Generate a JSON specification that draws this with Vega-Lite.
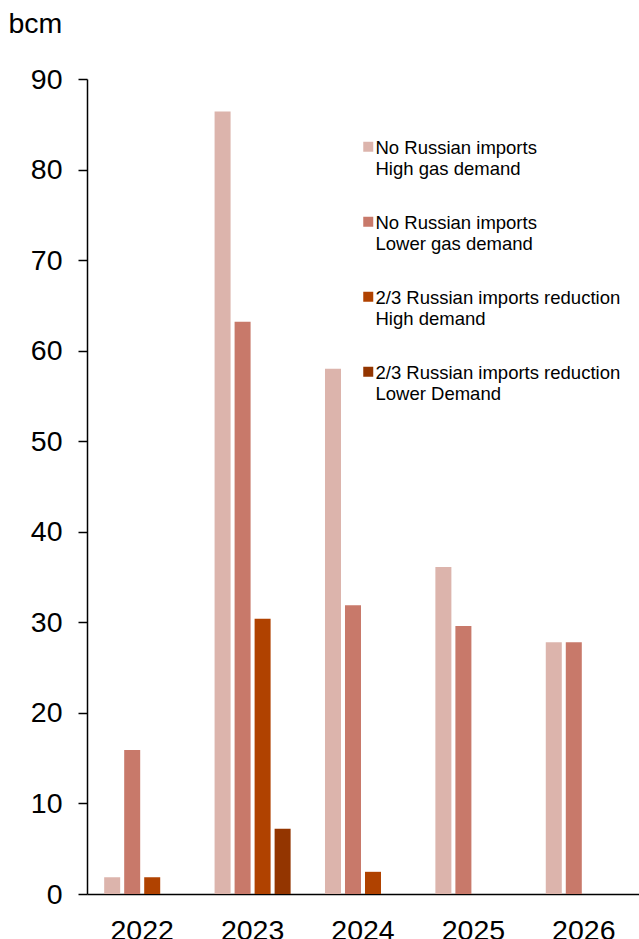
{
  "$schema": "https://vega.github.io/schema/vega-lite/v6.json",
  "width": 552,
  "height": 815,
  "autosize": {"type": "none"},
  "padding": {"left": 87, "top": 79, "right": 0, "bottom": 45},
  "background": "white",
  "config": {
    "view": {"stroke": null},
    "font": "Liberation Sans"
  },
  "data": {
    "values": [
      {"year": "2022", "series": "No Russian imports|High gas demand", "value": 1.85},
      {"year": "2022", "series": "No Russian imports|Lower gas demand", "value": 15.9},
      {"year": "2022", "series": "2/3 Russian imports reduction|High demand", "value": 1.85},
      {"year": "2023", "series": "No Russian imports|High gas demand", "value": 86.4},
      {"year": "2023", "series": "No Russian imports|Lower gas demand", "value": 63.2},
      {"year": "2023", "series": "2/3 Russian imports reduction|High demand", "value": 30.4},
      {"year": "2023", "series": "2/3 Russian imports reduction|Lower Demand", "value": 7.2},
      {"year": "2024", "series": "No Russian imports|High gas demand", "value": 58.0},
      {"year": "2024", "series": "No Russian imports|Lower gas demand", "value": 31.9},
      {"year": "2024", "series": "2/3 Russian imports reduction|High demand", "value": 2.45},
      {"year": "2025", "series": "No Russian imports|High gas demand", "value": 36.1},
      {"year": "2025", "series": "No Russian imports|Lower gas demand", "value": 29.6},
      {"year": "2026", "series": "No Russian imports|High gas demand", "value": 27.8},
      {"year": "2026", "series": "No Russian imports|Lower gas demand", "value": 27.8}
    ]
  },
  "mark": {"type": "bar"},
  "encoding": {
    "x": {
      "field": "year",
      "type": "nominal",
      "scale": {"paddingInner": 0.275, "paddingOuter": 0.1375},
      "axis": {
        "title": null,
        "labelAngle": 0,
        "labelFontSize": 28.5,
        "labelColor": "#000000",
        "labelPadding": 22,
        "ticks": false,
        "domainColor": "#000000",
        "domainWidth": 1.5
      }
    },
    "xOffset": {
      "field": "series",
      "type": "nominal",
      "scale": {
        "domain": [
          "No Russian imports|High gas demand",
          "No Russian imports|Lower gas demand",
          "2/3 Russian imports reduction|High demand",
          "2/3 Russian imports reduction|Lower Demand"
        ],
        "paddingInner": 0.2,
        "paddingOuter": 0.1
      }
    },
    "y": {
      "field": "value",
      "type": "quantitative",
      "scale": {"domain": [0, 90], "nice": false},
      "axis": {
        "title": "bcm",
        "titleAngle": 0,
        "titleAlign": "left",
        "titleBaseline": "alphabetic",
        "titleX": -79,
        "titleY": -47,
        "titleFontSize": 28.5,
        "titleFontWeight": "normal",
        "titleColor": "#000000",
        "values": [0, 10, 20, 30, 40, 50, 60, 70, 80, 90],
        "grid": false,
        "labelFontSize": 28.5,
        "labelColor": "#000000",
        "labelPadding": 16,
        "tickSize": 9,
        "tickColor": "#000000",
        "tickWidth": 1.5,
        "domainColor": "#000000",
        "domainWidth": 1.5
      }
    },
    "color": {
      "field": "series",
      "type": "nominal",
      "scale": {
        "domain": [
          "No Russian imports|High gas demand",
          "No Russian imports|Lower gas demand",
          "2/3 Russian imports reduction|High demand",
          "2/3 Russian imports reduction|Lower Demand"
        ],
        "range": ["#DCB4AC", "#C8796A", "#B04200", "#933500"]
      },
      "legend": {
        "title": null,
        "orient": "none",
        "legendX": 272,
        "legendY": 51,
        "padding": 0,
        "labelExpr": "split(datum.label, '|')",
        "labelFontSize": 18.5,
        "labelColor": "#000000",
        "labelLimit": 400,
        "labelBaseline": "top",
        "labelOffset": -2,
        "symbolType": "M-1,0.5H1V2.5H-1Z",
        "symbolSize": 100,
        "symbolStrokeWidth": 0,
        "rowPadding": 26
      }
    }
  }
}
